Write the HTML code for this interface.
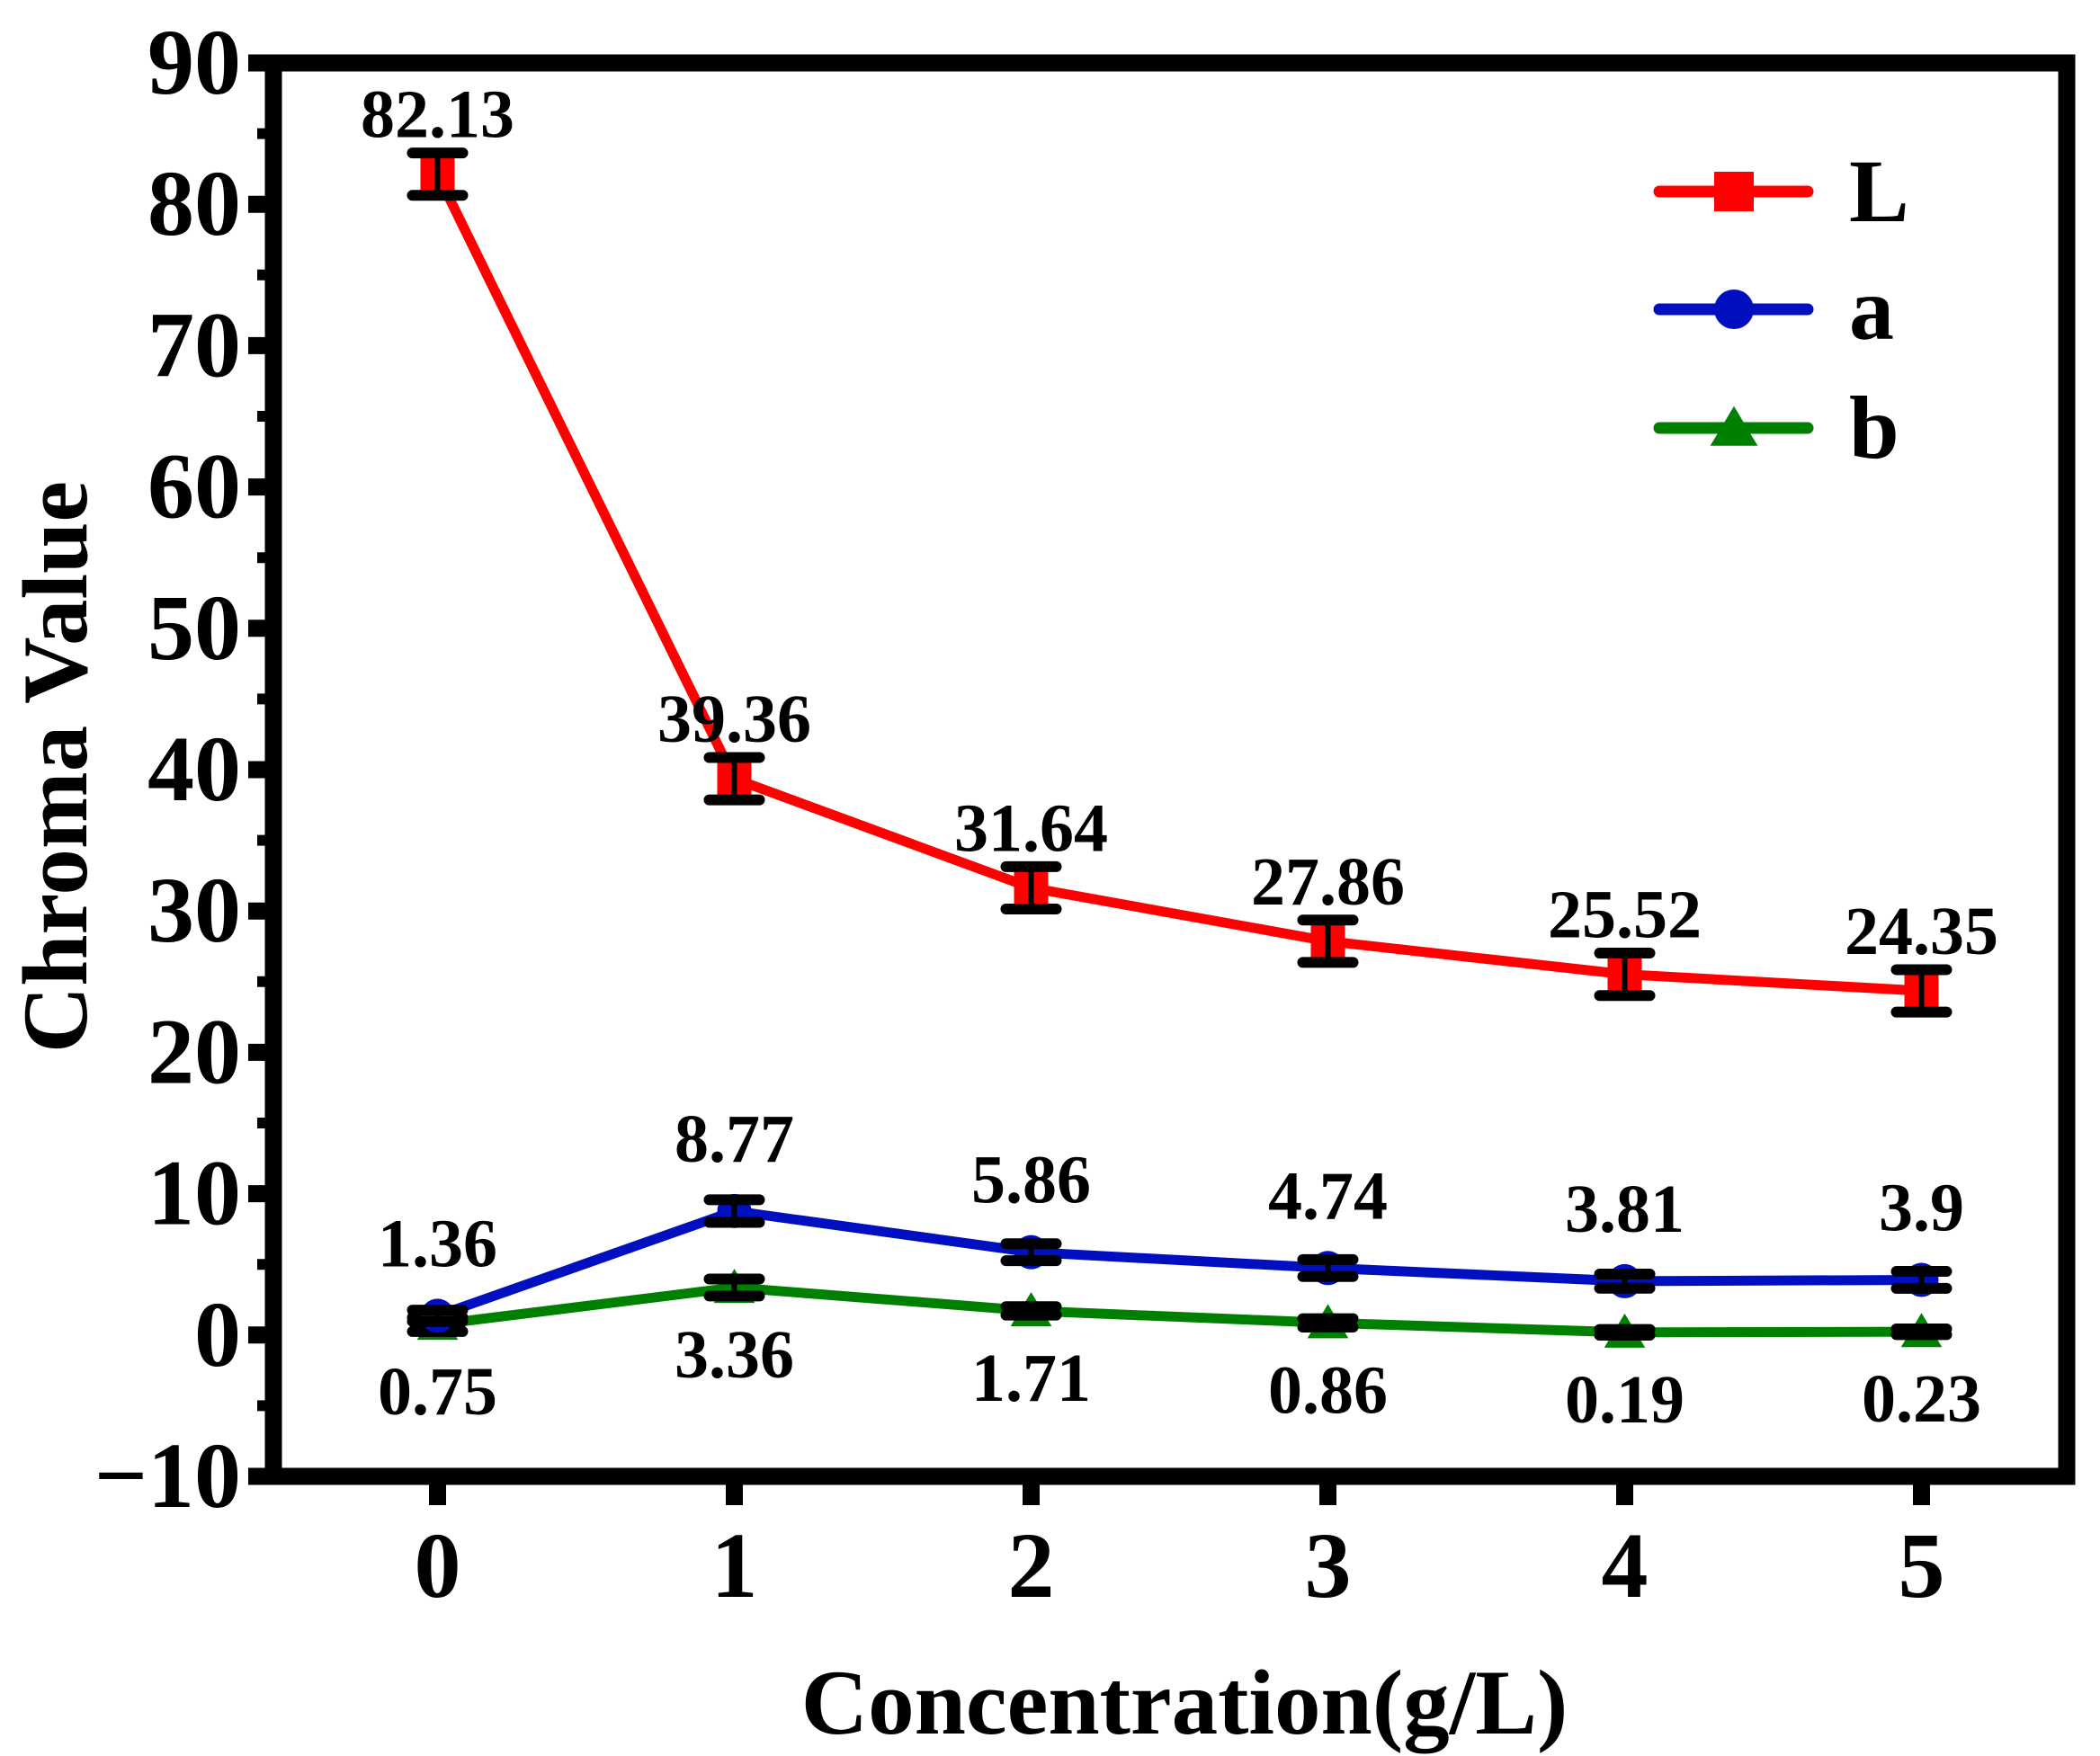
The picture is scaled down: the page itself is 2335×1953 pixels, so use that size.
<!DOCTYPE html>
<html><head><meta charset="utf-8"><style>
html,body{margin:0;padding:0;background:#fff}
svg{display:block}
text{font-family:"Liberation Serif",serif;font-weight:bold;fill:#000}
</style></head><body>
<svg id="chart" width="2335" height="1953" viewBox="0 0 2335 1953" xmlns="http://www.w3.org/2000/svg"></svg>
<script>
const categories=[0,1,2,3,4,5];
const yTicks=[-10,0,10,20,30,40,50,60,70,80,90];
const valuesL=[82.13,39.36,31.64,27.86,25.52,24.35];
const errL=[1.5,1.5,1.5,1.5,1.5,1.5];
const valuesA=[1.36,8.77,5.86,4.74,3.81,3.9];
const errA=[0.4,0.8,0.6,0.6,0.5,0.6];
const valuesB=[0.75,3.36,1.71,0.86,0.19,0.23];
const errB=[0.5,0.6,0.3,0.3,0.2,0.2];

const svg=document.getElementById('chart');
const NS='http://www.w3.org/2000/svg';
const L=304,R=2298,T=70,B=1642;
function xs(i){return 486.5+i*330;}
function ys(v){return T+(90-v)*(B-T)/100;}
function mk(tag,attrs,parent){const e=document.createElementNS(NS,tag);for(const k in attrs)e.setAttribute(k,attrs[k]);(parent||svg).appendChild(e);return e;}

const frame=mk('rect',{x:L,y:T,width:R-L,height:B-T,fill:'none',stroke:'#000','stroke-width':19});



yTicks.forEach(v=>{
  const t=mk('line',{x1:L-28,x2:L,y1:ys(v),y2:ys(v),stroke:'#000','stroke-width':19});
  
  
  const lb=mk('text',{x:L-36,y:ys(v)+34,'text-anchor':'end','font-size':104});
  lb.textContent=v<0?'\u2212'+Math.abs(v):String(v);
  
  
  if(v<90){const m=mk('line',{x1:L-18,x2:L,y1:ys(v+5),y2:ys(v+5),stroke:'#000','stroke-width':12});
    
    }
});
categories.forEach((c,i)=>{
  const t=mk('line',{x1:xs(i),x2:xs(i),y1:B,y2:B+32,stroke:'#000','stroke-width':19});
  
  
  const lb=mk('text',{x:xs(i),y:1776,'text-anchor':'middle','font-size':104});
  lb.textContent=String(c);
  
  
});
const xt=mk('text',{x:1317,y:1928,'text-anchor':'middle','font-size':103});
xt.textContent='Concentration(g/L)';


const yt=mk('text',{x:0,y:0,'text-anchor':'middle','font-size':103,transform:'translate(96,853) rotate(-90)'});
yt.textContent='Chroma Value';



function marker(type,x,y,color,s,g){
  if(type==='sq')return mk('rect',{x:x-s/2,y:y-s/2,width:s,height:s,fill:color},g);
  if(type==='ci')return mk('circle',{cx:x,cy:y,r:s/2,fill:color},g);
  return mk('polygon',{points:`${x},${y-s*0.55} ${x-s*0.6},${y+s*0.45} ${x+s*0.6},${y+s*0.45}`,fill:color},g);
}
function series(name,vals,errs,color,type,labelOff){
  const g=mk('g',{});
  
  
  const pts=vals.map((v,i)=>xs(i)+','+ys(v)).join(' ');
  const pl=mk('polyline',{points:pts,fill:'none',stroke:color,'stroke-width':11,'stroke-linejoin':'round'},g);
  
  
  vals.forEach((v,i)=>{
    const m=marker(type,xs(i),ys(v),color,38,g);
    
    
  });
  vals.forEach((v,i)=>{
    const x=xs(i),y1=ys(v+errs[i]),y2=ys(v-errs[i]);
    const eb=mk('g',{},g);
    
    
    mk('line',{x1:x,x2:x,y1:y1,y2:y2,stroke:'#000','stroke-width':6},eb);
    mk('line',{x1:x-28,x2:x+28,y1:y1,y2:y1,stroke:'#000','stroke-width':12,'stroke-linecap':'round'},eb);
    mk('line',{x1:x-28,x2:x+28,y1:y2,y2:y2,stroke:'#000','stroke-width':12,'stroke-linecap':'round'},eb);
  });
  vals.forEach((v,i)=>{
    const t=mk('text',{x:xs(i),y:ys(v)+labelOff,'text-anchor':'middle','font-size':76},g);
    t.textContent=String(v);
    
    
  });
}
series('b',valuesB,errB,'#008000','tr',100);
series('a',valuesA,errA,'#0010c0','ci',-55);
series('L',valuesL,errL,'#ff0000','sq',-41);

const legend=mk('g',{});


[['L','#ff0000','sq',213],['a','#0010c0','ci',344],['b','#008000','tr',476]].forEach(d=>{
  const g=mk('g',{},legend);
  
  
  mk('line',{x1:1845,x2:2010,y1:d[3],y2:d[3],stroke:d[1],'stroke-width':13,'stroke-linecap':'round'},g);
  marker(d[2],1928,d[3],d[1],44,g);
  const t=mk('text',{x:2056,y:d[3]+33,'font-size':100},g);
  t.textContent=d[0];
});
</script>
</body></html>
